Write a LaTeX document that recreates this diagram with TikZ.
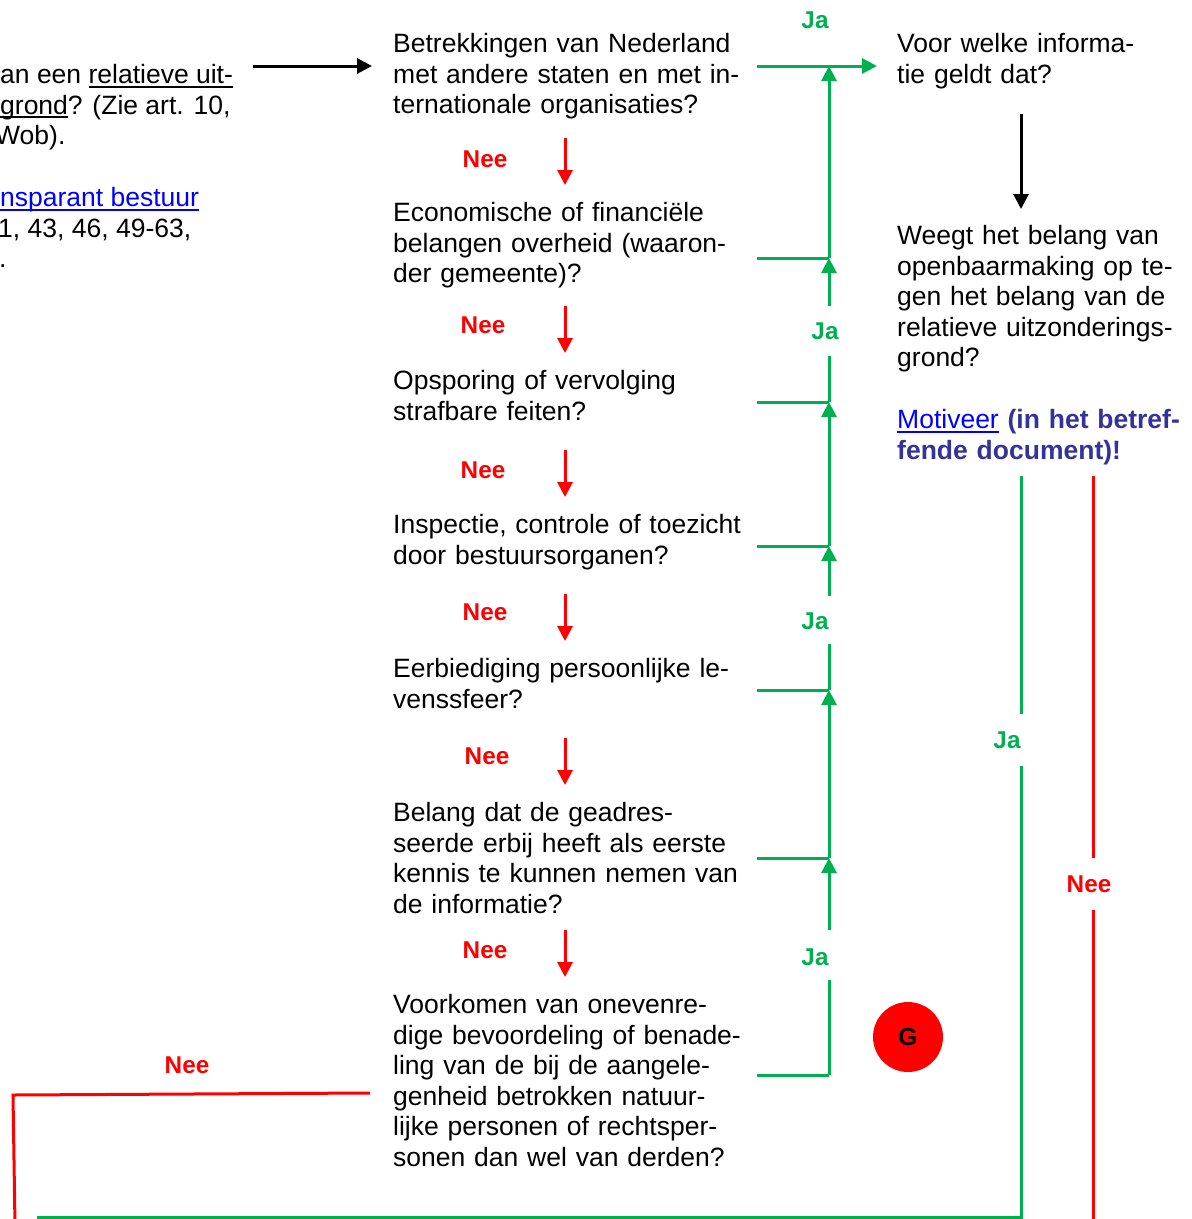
\documentclass[tikz,border=0pt]{standalone}
\usepackage{fontspec}
\setmainfont{Liberation Sans}
\usepackage{tikz}
\usetikzlibrary{arrows.meta}
\usepackage{xcolor}
\definecolor{jagroen}{HTML}{00B050}
\definecolor{neerood}{HTML}{FF0000}
\definecolor{linkblauw}{HTML}{0000FF}
\definecolor{motiefblauw}{HTML}{333399}
\newcommand{\onderstreept}[1]{\setbox0\hbox{#1}\rlap{\rule[-4pt]{\wd0}{1.8pt}}\box0}

\begin{document}
\begin{tikzpicture}[x=1pt, y=-1pt,
    vraag/.style={anchor=base west, inner sep=0pt, text width=420pt, align=left, font=\fontsize{26.5}{30.5}\selectfont},
    regel/.style={anchor=base west, inner sep=0pt, font=\fontsize{26.5}{30.5}\selectfont},
    ja/.style={text=jagroen, inner sep=0pt, font=\bfseries\fontsize{24.3}{28}\selectfont},
    nee/.style={text=neerood, inner sep=0pt, font=\bfseries\fontsize{24.3}{28}\selectfont},
    jalijn/.style={draw=jagroen, line width=3pt},
    neelijn/.style={draw=neerood, line width=3pt},
    zwartlijn/.style={draw=black, line width=3pt},
    pijl/.style={-{Triangle[length=15pt,width=15pt]}}]
        \useasboundingbox (0,0) rectangle (1192,1219);
        % afgesneden tekst links
        \node[regel] (links1) at (0,83.5) {an een \onderstreept{relatieve uit-}};
        \node[regel] (links2) at (0,114) {\onderstreept{grond}? (Zie art. 10,};
        \node[regel] (links3) at (-5,144.5) {Wob).};
        \node[regel, text=linkblauw] (links4) at (0,206.5) {\onderstreept{nsparant bestuur}};
        \node[regel] (links5) at (-2,237) {1, 43, 46, 49-63,};
        \node[regel] (links6) at (-1,267.5) {.};
        % vragen
        \node[vraag] (q1) at (393,52.5) {Betrekkingen van Nederland\\met andere staten en met in-\\ternationale organisaties?};
        \node[vraag] (q2) at (393,221.5) {Economische of financiële\\belangen overheid (waaron-\\der gemeente)?};
        \node[vraag] (q3) at (393,389.5) {Opsporing of vervolging\\strafbare feiten?};
        \node[vraag] (q4) at (393,533.5) {Inspectie, controle of toezicht\\door bestuursorganen?};
        \node[vraag] (q5) at (393,677.5) {Eerbiediging persoonlijke le-\\venssfeer?};
        \node[vraag] (q6) at (393,821.5) {Belang dat de geadres-\\seerde erbij heeft als eerste\\kennis te kunnen nemen van\\de informatie?};
        \node[vraag] (q7) at (393,1013.5) {Voorkomen van onevenre-\\dige bevoordeling of benade-\\ling van de bij de aangele-\\genheid betrokken natuur-\\lijke personen of rechtsper-\\sonen dan wel van derden?};
        \node[vraag] (info) at (897,52.5) {Voor welke informa-\\tie geldt dat?};
        \node[vraag] (weeg) at (897,244.5) {Weegt het belang van\\openbaarmaking op te-\\gen het belang van de\\relatieve uitzonderings-\\grond?};
        \node[vraag, text=motiefblauw] (motiveer) at (897,428.5) {\textcolor{linkblauw}{\onderstreept{Motiveer}} \textbf{(in het betref-}\\\textbf{fende document)!}};
        \node[circle, fill=neerood, minimum size=70pt, inner sep=0pt, font=\bfseries\fontsize{24.7}{28}\selectfont] (g) at (908,1037) {G};
        % zwarte pijlen
        \coordinate (vanlinks) at (253,66);
        \draw[zwartlijn, pijl] (vanlinks) -- ([xshift=-21pt]q1.base west |- vanlinks);
        \draw[zwartlijn, pijl] (1021,114) -- (1021,209);
        % nee-pijlen tussen de vragen
        \foreach \lx/\ly/\a [count=\i] in {485/159/138, 483/325/306, 483/470/450, 485/612/594, 487/756/738, 485/950/930}{
        \node[nee] (nee\i) at (\lx,\ly) {Nee};
        \draw[neelijn, pijl] (565,\a) -- (565,\a+47);}
        % ja-takken
        \coordinate (tak1) at (829,66);
        \foreach \y [count=\i from 2] in {258, 402, 546, 690, 858, 1075}{
        \coordinate (tak\i) at (829,\y);
        \draw[jalijn] (757,\y) -- (tak\i);}
        \draw[jalijn] (tak7) -- (829,980);
        \draw[jalijn, pijl] (829,930) -- (tak6);
        \draw[jalijn, pijl] (tak6) -- (tak5);
        \draw[jalijn] (tak5) -- (829,644);
        \draw[jalijn, pijl] (829,596) -- (tak4);
        \draw[jalijn, pijl] (tak4) -- (tak3);
        \draw[jalijn] (tak3) -- (829,356);
        \draw[jalijn, pijl] (829,306) -- (tak2);
        \draw[jalijn, pijl] (tak2) -- (tak1);
        \draw[jalijn, pijl] (757,66) -- (877,66);
        \node[ja] (ja1) at (815,20) {Ja};
        \node[ja] (ja2) at (825,331) {Ja};
        \node[ja] (ja3) at (815,621) {Ja};
        \node[ja] (ja4) at (815,957) {Ja};
        % rechts en onder
        \node[ja] (ja5) at (1007,740) {Ja};
        \node[nee] (nee7) at (1089,884) {Nee};
        \node[nee] (nee8) at (187,1065) {Nee};
        \draw[jalijn] (1021,476) -- (1021,714);
        \draw[jalijn] (1021,766) -- (1021,1217.5) -- (37,1217.5);
        \draw[neelijn] (1093,476) -- (1093,858);
        \draw[neelijn] (1093,910) -- (1093,1225);
        \draw[neelijn] (370,1093) -- (13,1095) -- (15,1225);
\end{tikzpicture}
\end{document}
